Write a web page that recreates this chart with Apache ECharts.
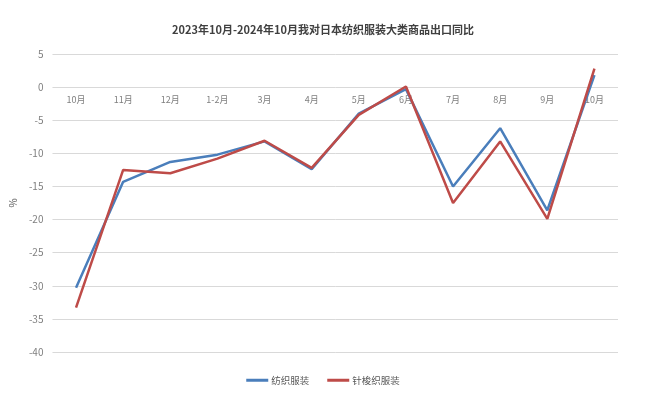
<!DOCTYPE html>
<html><head><meta charset="utf-8">
<script src="https://cdn.jsdelivr.net/npm/echarts@6/dist/echarts.min.js"></script>
<style>html,body{margin:0;padding:0;background:#fff}#c{width:646px;height:413px}</style>
</head><body><div id="c"></div>
<script>
const categories = ['10月','11月','12月','1-2月','3月','4月','5月','6月','7月','8月','9月','10月'];
const textileApparel = [-30.3,-14.3,-11.3,-10.2,-8.2,-12.4,-4.0,-0.3,-15.0,-6.2,-18.6,1.8];
const knitWovenApparel = [-33.3,-12.5,-13.0,-10.8,-8.1,-12.2,-4.2,0.1,-17.5,-8.2,-19.9,2.8];
const seriesNames = ['纺织服装','针梭织服装'];
const titleText = '2023年10月-2024年10月我对日本纺织服装大类商品出口同比';

const font = '"Noto Sans CJK SC","Noto Sans",sans-serif';
const chart = echarts.init(document.getElementById('c'), null, {renderer:'canvas'});
const gridTop = 54, gridBottom = 61, plotH = 413 - gridTop - gridBottom;
const yMin = -40, yMax = 5;
const zeroOffset = -plotH * (0 - yMin) / (yMax - yMin);
chart.setOption({
  animation:false,
  backgroundColor:'#fff',
  title:{text:titleText,left:'center',top:19,textStyle:{fontSize:11,fontWeight:'bold',color:'#404040',fontFamily:font}},
  legend:{bottom:23,left:'center',itemWidth:22,itemHeight:3,itemGap:18,icon:'rect',
    textStyle:{fontSize:9.5,color:'#595959',fontFamily:font,padding:[0,0,0,-2]},data:seriesNames},
  grid:{left:52,right:28,top:gridTop,bottom:gridBottom},
  xAxis:{type:'category',data:categories,boundaryGap:true,position:'bottom',offset:zeroOffset,
    axisLine:{show:false,onZero:false},axisTick:{show:false},
    axisLabel:{color:'#7f7f7f',fontSize:9,fontFamily:font,margin:8}},
  yAxis:{type:'value',min:yMin,max:yMax,interval:5,name:'%',nameLocation:'middle',nameGap:33,nameRotate:90,
    nameTextStyle:{color:'#595959',fontSize:10,fontFamily:font},
    axisLine:{show:false},axisTick:{show:false},
    axisLabel:{color:'#7f7f7f',fontSize:10,fontFamily:font,margin:9},
    splitLine:{lineStyle:{color:'#d9d9d9',width:1}}},
  series:[
    {name:seriesNames[0],type:'line',data:textileApparel,symbol:'none',lineStyle:{color:'#4a7ebb',width:2.5},itemStyle:{color:'#4a7ebb'}},
    {name:seriesNames[1],type:'line',data:knitWovenApparel,symbol:'none',lineStyle:{color:'#be4b48',width:2.5},itemStyle:{color:'#be4b48'}}
  ]
});
</script></body></html>
